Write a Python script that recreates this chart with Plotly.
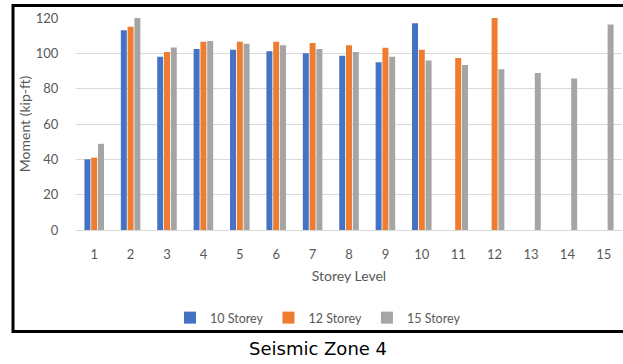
import plotly.graph_objects as go

# Storey levels on the x axis
levels = [str(i) for i in range(1, 16)]

# Bending moment (kip-ft) at each storey level, per building height
moment_10 = [40, 113, 98, 102.5, 102, 101.2, 100, 98.7, 95, 117,
             None, None, None, None, None]
moment_12 = [41, 115, 100.8, 106.5, 106.5, 106.5, 105.9, 104.6, 103.1, 102,
             97.4, 120, None, None, None]
moment_15 = [48.8, 120, 103.3, 107, 105.4, 104.6, 102.5, 100.8, 98, 96,
             93.4, 91, 88.9, 85.7, 116.3]

series_names = ["10 Storey", "12 Storey", "15 Storey"]
series_colors = ["#4472C4", "#ED7D31", "#A5A5A5"]
y_ticks = [0, 20, 40, 60, 80, 100, 120]

font_family = "Lato, 'Open Sans', sans-serif"
tick_color = "#595959"

fig = go.Figure()
for name, vals, color in zip(series_names, [moment_10, moment_12, moment_15], series_colors):
    fig.add_trace(go.Bar(x=levels, y=vals, name=name, marker_color=color,
                         marker_line_width=0))

# Plot-area geometry (pixels) used to place the frame and caption in paper units
W, H = 623, 364
m_l, m_r, m_t, m_b = 76, 1, 18, 134
pw = W - m_l - m_r
ph = H - m_t - m_b

def px_x(x):
    return (x - m_l) / pw

def px_y(y):
    return (H - m_b - y) / ph

fig.update_layout(
    width=W, height=H,
    margin=dict(l=m_l, r=m_r, t=m_t, b=m_b),
    paper_bgcolor="white", plot_bgcolor="white",
    barmode="group", bargap=0.44, bargroupgap=0.12,
    font=dict(family=font_family, color=tick_color, size=13),
    showlegend=True,
    legend=dict(orientation="h", x=px_x(318), y=px_y(318), xanchor="center", yanchor="middle",
                font=dict(size=12.5, color=tick_color), itemwidth=30,
                traceorder="normal", bgcolor="rgba(0,0,0,0)"),
    xaxis=dict(
        type="category", showgrid=False, showline=False, zeroline=False,
        ticks="outside", ticklen=12, tickcolor="rgba(0,0,0,0)",
        tickfont=dict(size=13, color=tick_color),
        title=dict(text="Storey Level", font=dict(size=14, color=tick_color), standoff=10),
    ),
    yaxis=dict(
        range=[0, 120], tickvals=y_ticks,
        showgrid=True, gridcolor="#D9D9D9", gridwidth=1,
        zeroline=True, zerolinecolor="#D9D9D9", zerolinewidth=1,
        showline=False,
        ticks="outside", ticklen=14, tickcolor="rgba(0,0,0,0)",
        tickfont=dict(size=13, color=tick_color),
        title=dict(text="Moment (kip-ft)", font=dict(size=14, color=tick_color), standoff=1),
    ),
    shapes=[dict(type="rect", xref="paper", yref="paper",
                 x0=px_x(13), x1=px_x(626), y0=px_y(331.5), y1=px_y(5.5),
                 line=dict(color="black", width=3), fillcolor="rgba(0,0,0,0)", layer="above")],
    annotations=[dict(text="Seismic Zone 4", xref="paper", yref="paper",
                      x=px_x(318), y=px_y(348), xanchor="center", yanchor="middle",
                      showarrow=False, font=dict(size=18, color="black",
                                                 family="'DejaVu Sans', sans-serif"))],
)

fig.write_html("out.html")
